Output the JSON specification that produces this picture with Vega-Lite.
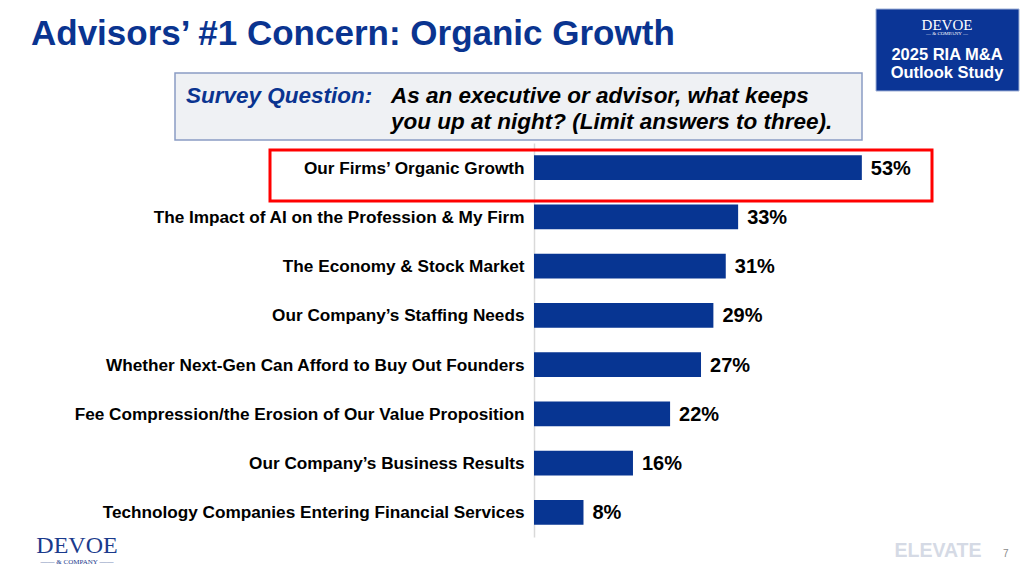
{
  "$schema": "https://vega.github.io/schema/vega-lite/v6.json",
  "autosize": {"type": "none"},
  "width": 433,
  "height": 394,
  "padding": {"left": 534, "top": 143, "right": 57, "bottom": 40},
  "background": "white",
  "config": {"view": {"stroke": null}, "font": "Liberation Sans"},
  "data": {
    "values": [
      {"concern": "Our Firms’ Organic Growth", "share": 0.53},
      {"concern": "The Impact of AI on the Profession & My Firm", "share": 0.33},
      {"concern": "The Economy & Stock Market", "share": 0.31},
      {"concern": "Our Company’s Staffing Needs", "share": 0.29},
      {"concern": "Whether Next-Gen Can Afford to Buy Out Founders", "share": 0.27},
      {"concern": "Fee Compression/the Erosion of Our Value Proposition", "share": 0.22},
      {"concern": "Our Company’s Business Results", "share": 0.16},
      {"concern": "Technology Companies Entering Financial Services", "share": 0.08}
    ]
  },
  "layer": [
    {
      "mark": {"type": "bar", "color": "#073592"},
      "encoding": {
        "y": {
          "field": "concern", "type": "nominal", "sort": null,
          "scale": {"paddingInner": 0.5, "paddingOuter": 0.25},
          "axis": {
            "title": null, "ticks": false, "labelPadding": 10, "labelLimit": 600,
            "labelFontSize": 17.2, "labelFontWeight": "bold", "labelColor": "#000000",
            "labelFont": "Liberation Sans", "labelOffset": 1,
            "domainColor": "#d9d9d9", "domainWidth": 1.5, "grid": false
          }
        },
        "x": {
          "field": "share", "type": "quantitative",
          "scale": {"domain": [0, 0.7], "nice": false},
          "axis": null
        }
      }
    },
    {
      "mark": {"type": "text", "align": "left", "baseline": "middle", "dx": 9, "dy": 1,
               "fontSize": 20, "fontWeight": "bold", "color": "#000000"},
      "encoding": {
        "y": {"field": "concern", "type": "nominal", "sort": null},
        "x": {"field": "share", "type": "quantitative"},
        "text": {"field": "share", "type": "quantitative", "format": ".0%"}
      }
    },
    {
      "data": {"values": [{}]},
      "mark": {"type": "rect", "x": -264, "x2": 398, "y": 7, "y2": 58,
               "fill": null, "stroke": "#ff0000", "strokeWidth": 3}
    },
    {
      "data": {"values": [{}]},
      "mark": {"type": "text", "x": -503, "y": -98, "align": "left", "baseline": "alphabetic",
               "text": "Advisors’ #1 Concern: Organic Growth",
               "fontSize": 35, "fontWeight": "bold", "color": "#0a3490"}
    },
    {
      "data": {"values": [{}]},
      "mark": {"type": "rule", "x": -504, "x2": 342, "y": -81, "y2": -81,
               "stroke": "#2a4a9c", "strokeWidth": 2},
      "encoding": {}
    },
    {
      "data": {"values": [{}]},
      "mark": {"type": "rect", "x": -359, "x2": 328, "y": -70, "y2": -3,
               "fill": "#eff1f4", "stroke": "#8a9cc4", "strokeWidth": 1.5}
    },
    {
      "data": {"values": [{}]},
      "mark": {"type": "text", "x": -348, "y": -40, "align": "left", "baseline": "alphabetic",
               "text": "Survey Question:", "fontSize": 22.5, "fontWeight": "bold",
               "fontStyle": "italic", "color": "#0a3490"}
    },
    {
      "data": {"values": [{}]},
      "mark": {"type": "text", "x": -143, "y": -40, "align": "left", "baseline": "alphabetic",
               "text": ["As an executive or advisor, what keeps", "you up at night? (Limit answers to three)."],
               "lineHeight": 26, "fontSize": 22.5, "fontWeight": "bold",
               "fontStyle": "italic", "color": "#000000"}
    },
    {
      "data": {"values": [{}]},
      "mark": {"type": "rect", "x": 342, "x2": 485, "y": -134, "y2": -52,
               "fill": "#0b3596", "stroke": "#9fb0d6", "strokeWidth": 1}
    },
    {
      "data": {"values": [{}]},
      "mark": {"type": "text", "x": 413, "y": -113, "align": "center", "baseline": "alphabetic",
               "text": "DEVOE", "font": "Liberation Serif", "fontSize": 15, "color": "#ffffff"}
    },
    {
      "data": {"values": [{}]},
      "mark": {"type": "text", "x": 413, "y": -108, "align": "center", "baseline": "alphabetic",
               "text": "— & COMPANY —", "font": "Liberation Serif", "fontSize": 5, "color": "#ffffff"}
    },
    {
      "data": {"values": [{}]},
      "mark": {"type": "text", "x": 413, "y": -83, "align": "center", "baseline": "alphabetic",
               "text": ["2025 RIA M&A", "Outlook Study"], "lineHeight": 18,
               "fontSize": 16.5, "fontWeight": "bold", "color": "#ffffff"}
    },
    {
      "data": {"values": [{}]},
      "mark": {"type": "text", "x": -457, "y": 410, "align": "center", "baseline": "alphabetic",
               "text": "DEVOE", "font": "Liberation Serif", "fontSize": 24, "color": "#1a3a8c"}
    },
    {
      "data": {"values": [{}]},
      "mark": {"type": "text", "x": -457, "y": 421, "align": "center", "baseline": "alphabetic",
               "text": "—— & COMPANY ——", "font": "Liberation Serif", "fontSize": 7, "color": "#1a3a8c"}
    },
    {
      "data": {"values": [{}]},
      "mark": {"type": "text", "x": 404, "y": 414, "align": "center", "baseline": "alphabetic",
               "text": "ELEVATE", "fontSize": 19.5, "fontWeight": "bold", "color": "#d5dae5"}
    },
    {
      "data": {"values": [{}]},
      "mark": {"type": "text", "x": 469, "y": 414, "align": "left", "baseline": "alphabetic",
               "text": "7", "fontSize": 10, "color": "#8a8a8a"}
    }
  ]
}
